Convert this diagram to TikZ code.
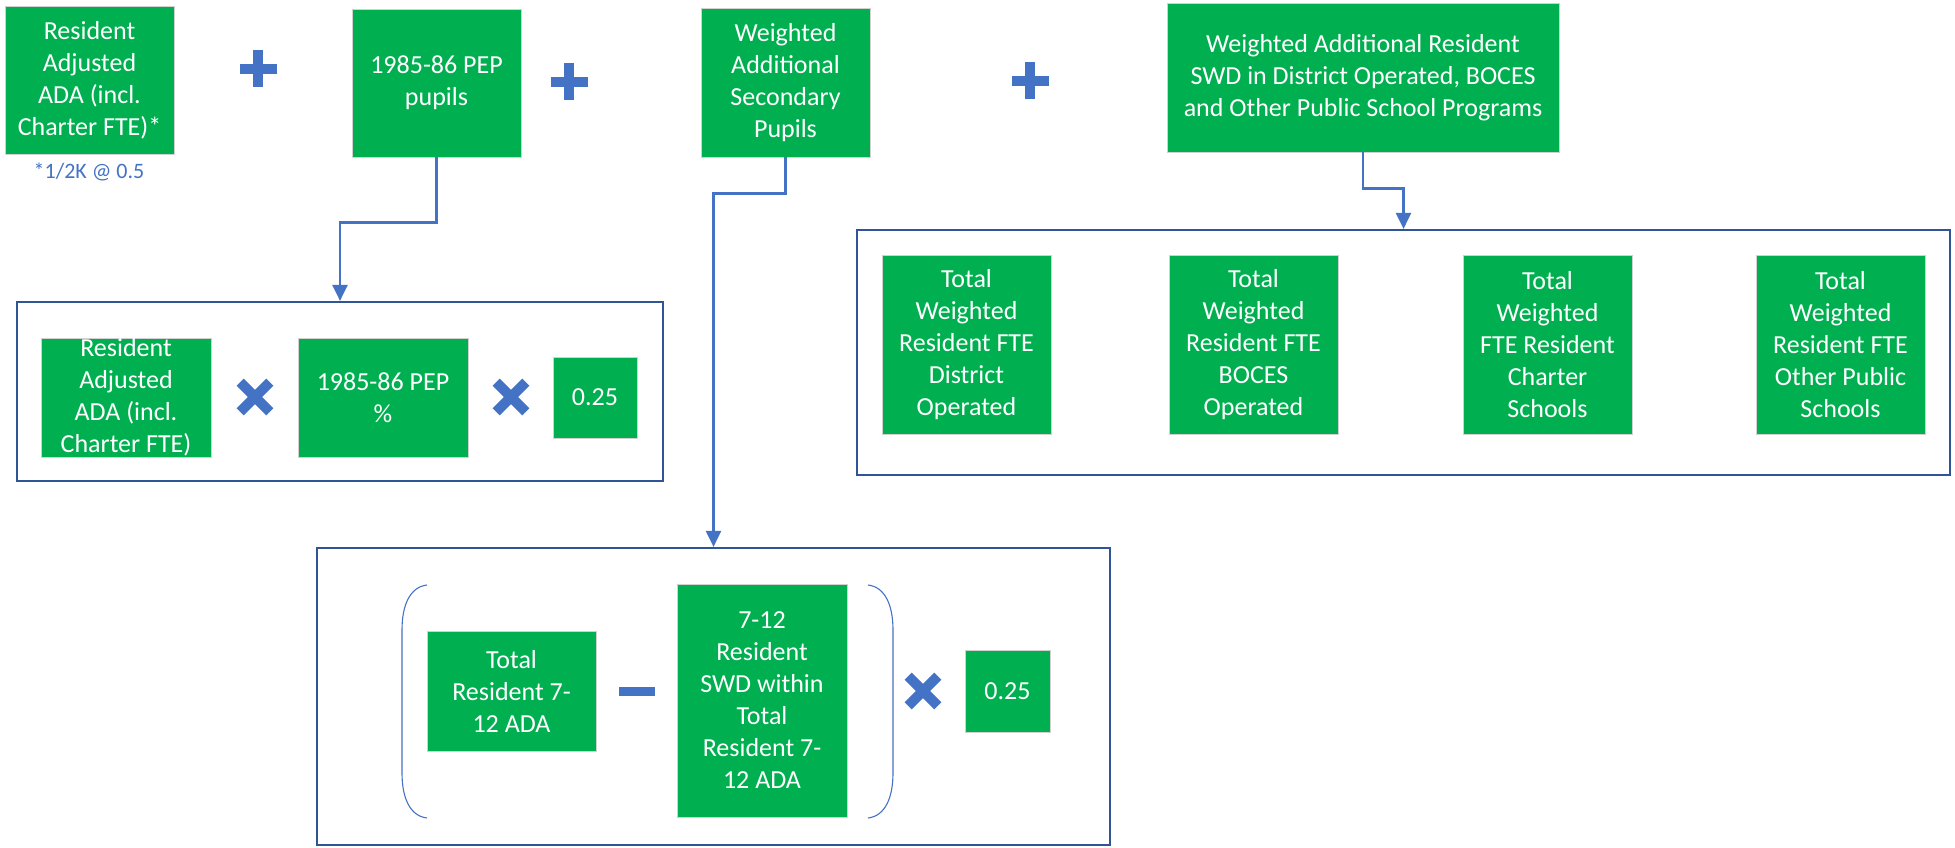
\documentclass[tikz,border=0pt]{standalone}
\usepackage{fontspec}
\setmainfont{Carlito}
\usetikzlibrary{arrows.meta}
\definecolor{grn}{HTML}{00B050}
\definecolor{bl}{HTML}{4472C4}
\definecolor{dbl}{HTML}{2F5597}
\tikzset{
  gbox/.style={rectangle, fill=grn, draw=black!18, line width=0.8pt, text=white, align=center,
    font=\fontsize{26}{32}\selectfont, inner sep=0pt},
  cont/.style={rectangle, draw=dbl, line width=2.2pt, inner sep=0pt},
  conn/.style={draw=bl, line width=2.4pt, -{Triangle[length=16pt,width=15pt]}},
  paren/.style={draw=bl, line width=1.1pt},
  plussign/.pic={\fill[bl] (-18.5,-5) rectangle (18.5,5); \fill[bl] (-5,-18.5) rectangle (5,18.5);},
  timessign/.pic={\fill[bl,rotate=45] (-21,-5) rectangle (21,5); \fill[bl,rotate=45] (-5,-21) rectangle (5,21);},
}
\begin{document}
\begin{tikzpicture}[x=1pt,y=-1pt]
\useasboundingbox (0,0) rectangle (1955,848);
% top row
\node[gbox, minimum width=169pt, minimum height=148pt] (b1) at (89.5,80) {Resident\\Adjusted\\ADA (incl.\\Charter FTE)*};
\node[text=bl, font=\fontsize{22}{26}\selectfont, inner sep=0pt] (note) at (89,172) {*1/2K @ 0.5};
\pic at (258,69) {plussign};
\node[gbox, minimum width=169pt, minimum height=148pt] (b2) at (436.5,83) {1985-86 PEP\\pupils};
\pic at (569,82) {plussign};
\node[gbox, minimum width=169pt, minimum height=149pt] (b3) at (785.5,82.5) {Weighted\\Additional\\Secondary\\Pupils};
\pic at (1030,81) {plussign};
\node[gbox, minimum width=392pt, minimum height=149pt] (b4) at (1363,77.5) {Weighted Additional Resident\\SWD in District Operated, BOCES\\and Other Public School Programs};
% container A
\node[cont, minimum width=646pt, minimum height=179pt] (cA) at (340,391.5) {};
\node[gbox, minimum width=170pt, minimum height=119pt] (a1) at (126,397.5) {Resident\\Adjusted\\ADA (incl.\\Charter FTE)};
\pic at (255,397) {timessign};
\node[gbox, minimum width=170pt, minimum height=119pt] (a2) at (383,397.5) {1985-86 PEP\\\%};
\pic at (511,397) {timessign};
\node[gbox, minimum width=84pt, minimum height=81pt] (a3) at (595,397.5) {0.25};
% container B
\node[cont, minimum width=793pt, minimum height=297pt] (cB) at (713.5,696.5) {};
\node[gbox, minimum width=169pt, minimum height=120pt] (c1) at (511.5,691) {Total\\Resident 7-\\12 ADA};
\fill[bl] (619,686.5) rectangle (655,695.5);
\node[gbox, minimum width=170pt, minimum height=233pt] (c2) at (762,700.5) {7-12\\Resident\\SWD within\\Total\\Resident 7-\\12 ADA};
\pic at (923,691) {timessign};
\node[gbox, minimum width=85pt, minimum height=82pt] (c3) at (1007.5,691) {0.25};
\draw[paren] (427,585) .. controls (410,587) and (402,605) .. (402,630) -- (402,773) .. controls (402,798) and (410,816) .. (427,818);
\draw[paren] (868,585) .. controls (885,587) and (893,605) .. (893,630) -- (893,773) .. controls (893,798) and (885,816) .. (868,818);
% container C
\node[cont, minimum width=1093pt, minimum height=245pt] (cC) at (1403.5,352.5) {};
\node[gbox, minimum width=169pt, minimum height=179pt] (d1) at (966.5,344.5) {Total\\Weighted\\Resident FTE\\District\\Operated};
\node[gbox, minimum width=169pt, minimum height=179pt] (d2) at (1253.5,344.5) {Total\\Weighted\\Resident FTE\\BOCES\\Operated};
\node[gbox, minimum width=169pt, minimum height=179pt] (d3) at (1547.5,344.5) {Total\\Weighted\\FTE Resident\\Charter\\Schools};
\node[gbox, minimum width=169pt, minimum height=179pt] (d4) at (1840.5,344.5) {Total\\Weighted\\Resident FTE\\Other Public\\Schools};
% connectors
\draw[conn] (b2.south) -- ++(0,65) -| (cA.north);
\draw[conn] (b3.south) -- ++(0,36) -| (cB.north);
\draw[conn] (b4.south) -- ++(0,36) -| (cC.north);
\end{tikzpicture}
\end{document}
